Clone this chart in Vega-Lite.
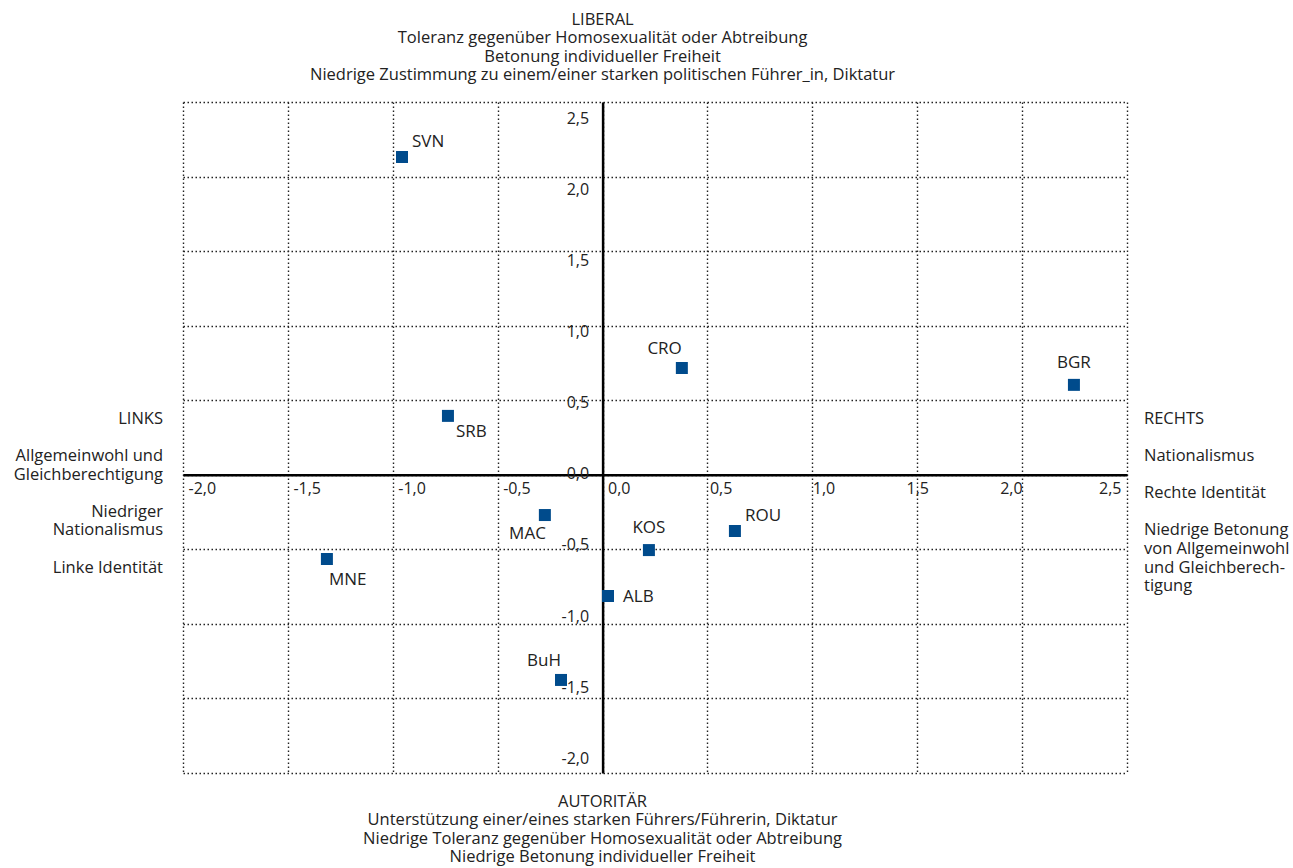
{
  "$schema": "https://vega.github.io/schema/vega-lite/v6.json",
  "width": 944,
  "height": 671,
  "autosize": {"type": "none"},
  "padding": {"left": 183, "top": 102, "right": 166, "bottom": 95},
  "background": "white",
  "config": {
    "view": {"stroke": null},
    "font": "Open Sans",
    "text": {"font": "Open Sans", "color": "#222", "fontSize": 16.5}
  },
  "datasets": {
    "countries": [
      {"code": "SVN", "x": -0.956, "y": 2.131},
      {"code": "CRO", "x": 0.378, "y": 0.716},
      {"code": "BGR", "x": 2.247, "y": 0.603},
      {"code": "SRB", "x": -0.737, "y": 0.395},
      {"code": "MAC", "x": -0.275, "y": -0.27},
      {"code": "KOS", "x": 0.221, "y": -0.505},
      {"code": "ROU", "x": 0.631, "y": -0.377},
      {"code": "MNE", "x": -1.314, "y": -0.565},
      {"code": "ALB", "x": 0.026, "y": -0.813},
      {"code": "BuH", "x": -0.198, "y": -1.376}
    ],
    "notes": [
      {"block": "top", "lines": ["LIBERAL", "Toleranz gegenüber Homosexualität oder Abtreibung", "Betonung individueller Freiheit", "Niedrige Zustimmung zu einem/einer starken politischen Führer_in, Diktatur"]},
      {"block": "bottom", "lines": ["AUTORITÄR", "Unterstützung einer/eines starken Führers/Führerin, Diktatur", "Niedrige Toleranz gegenüber Homosexualität oder Abtreibung", "Niedrige Betonung individueller Freiheit"]},
      {"block": "left", "lines": ["LINKS", "\u200b", "Allgemeinwohl und", "Gleichberechtigung", "\u200b", "Niedriger", "Nationalismus", "\u200b", "Linke Identität"]},
      {"block": "right", "lines": ["RECHTS", "\u200b", "Nationalismus", "\u200b", "Rechte Identität", "\u200b", "Niedrige Betonung", "von Allgemeinwohl", "und Gleichberech-", "tigung"]}
    ]
  },
  "layer": [
    {
      "data": {"name": "countries"},
      "mark": {"type": "square", "size": 144, "color": "#004b8c", "opacity": 1},
      "encoding": {
        "x": {
          "field": "x", "type": "quantitative",
          "scale": {"domain": [-2, 2.5], "nice": false, "zero": false},
          "axis": {
            "title": null, "orient": "bottom", "offset": -298.2,
            "values": [-2, -1.5, -1, -0.5, 0, 0.5, 1, 1.5, 2, 2.5],
            "domain": true, "domainColor": "#000", "domainWidth": 2.5,
            "ticks": false, "tickSize": 0,
            "grid": true, "gridColor": "#222", "gridDash": [1.5, 2.5], "gridWidth": 1.4,
            "labelFont": "Open Sans", "labelFontSize": 16, "labelColor": "#222",
            "labelPadding": 6, "labelBaseline": "top", "labelFlush": false, "labelOverlap": false,
            "labelExpr": "replace(replace(format(datum.value, '.1f'), '.', ','), '\u2212', '-')",
            "labelAlign": {
              "condition": [
                {"test": "datum.value >= 2", "value": "right"},
                {"test": "datum.value >= 1.5", "value": "center"}
              ],
              "value": "left"
            },
            "labelOffset": {
              "condition": [
                {"test": "datum.value <= 0", "value": 5},
                {"test": "datum.value <= 0.5", "value": 2},
                {"test": "datum.value >= 2.5", "value": -6}
              ],
              "value": 0
            }
          }
        },
        "y": {
          "field": "y", "type": "quantitative",
          "scale": {"domain": [-2, 2.5], "nice": false, "zero": false},
          "axis": {
            "title": null, "orient": "left", "offset": -419.6,
            "values": [-2, -1.5, -1, -0.5, 0, 0.5, 1, 1.5, 2, 2.5],
            "domain": true, "domainColor": "#000", "domainWidth": 2.5,
            "ticks": false, "tickSize": 0,
            "grid": true, "gridColor": "#222", "gridDash": [1.5, 2.5], "gridWidth": 1.4,
            "labelFont": "Open Sans", "labelFontSize": 16, "labelColor": "#222",
            "labelPadding": 14, "labelAlign": "right", "labelBaseline": "middle", "labelFlush": false, "labelOverlap": false,
            "labelExpr": "replace(replace(format(datum.value, '.1f'), '.', ','), '\u2212', '-')",
            "labelOffset": {
              "condition": [
                {"test": "datum.value >= 2.5", "value": 16},
                {"test": "datum.value >= 2", "value": 12.6},
                {"test": "datum.value >= 1.5", "value": 9.2},
                {"test": "datum.value >= 1", "value": 5.8},
                {"test": "datum.value >= 0.5", "value": 2.4},
                {"test": "datum.value >= 0", "value": -1},
                {"test": "datum.value >= -0.5", "value": -4.4},
                {"test": "datum.value >= -1", "value": -7.8},
                {"test": "datum.value >= -1.5", "value": -11.2}
              ],
              "value": -14.6
            }
          }
        }
      }
    },
    {
      "data": {"name": "countries"},
      "transform": [{"filter": {"field": "code", "oneOf": ["SVN", "ROU"]}}],
      "mark": {"type": "text", "align": "left", "baseline": "middle", "dx": 10, "dy": -15, "fontSize": 17},
      "encoding": {"x": {"field": "x", "type": "quantitative"}, "y": {"field": "y", "type": "quantitative"}, "text": {"field": "code", "type": "nominal"}}
    },
    {
      "data": {"name": "countries"},
      "transform": [{"filter": {"field": "code", "oneOf": ["CRO", "BuH"]}}],
      "mark": {"type": "text", "align": "right", "baseline": "middle", "dx": 0, "dy": -19, "fontSize": 17},
      "encoding": {"x": {"field": "x", "type": "quantitative"}, "y": {"field": "y", "type": "quantitative"}, "text": {"field": "code", "type": "nominal"}}
    },
    {
      "data": {"name": "countries"},
      "transform": [{"filter": {"field": "code", "oneOf": ["BGR", "KOS"]}}],
      "mark": {"type": "text", "align": "center", "baseline": "middle", "dx": 0, "dy": -22, "fontSize": 17},
      "encoding": {"x": {"field": "x", "type": "quantitative"}, "y": {"field": "y", "type": "quantitative"}, "text": {"field": "code", "type": "nominal"}}
    },
    {
      "data": {"name": "countries"},
      "transform": [{"filter": {"field": "code", "oneOf": ["SRB"]}}],
      "mark": {"type": "text", "align": "left", "baseline": "middle", "dx": 8, "dy": 16, "fontSize": 17},
      "encoding": {"x": {"field": "x", "type": "quantitative"}, "y": {"field": "y", "type": "quantitative"}, "text": {"field": "code", "type": "nominal"}}
    },
    {
      "data": {"name": "countries"},
      "transform": [{"filter": {"field": "code", "oneOf": ["MNE"]}}],
      "mark": {"type": "text", "align": "left", "baseline": "middle", "dx": 2, "dy": 21, "fontSize": 17},
      "encoding": {"x": {"field": "x", "type": "quantitative"}, "y": {"field": "y", "type": "quantitative"}, "text": {"field": "code", "type": "nominal"}}
    },
    {
      "data": {"name": "countries"},
      "transform": [{"filter": {"field": "code", "oneOf": ["MAC"]}}],
      "mark": {"type": "text", "align": "right", "baseline": "middle", "dx": 1, "dy": 19, "fontSize": 17},
      "encoding": {"x": {"field": "x", "type": "quantitative"}, "y": {"field": "y", "type": "quantitative"}, "text": {"field": "code", "type": "nominal"}}
    },
    {
      "data": {"name": "countries"},
      "transform": [{"filter": {"field": "code", "oneOf": ["ALB"]}}],
      "mark": {"type": "text", "align": "left", "baseline": "middle", "dx": 15, "dy": 1, "fontSize": 17},
      "encoding": {"x": {"field": "x", "type": "quantitative"}, "y": {"field": "y", "type": "quantitative"}, "text": {"field": "code", "type": "nominal"}}
    },
    {
      "data": {"name": "notes"},
      "transform": [{"filter": "datum.block === 'top'"}],
      "mark": {"type": "text", "align": "center", "baseline": "top", "dy": -90.5, "lineHeight": 18.5},
      "encoding": {"x": {"datum": 0, "type": "quantitative"}, "y": {"datum": 2.5, "type": "quantitative"}, "text": {"field": "lines", "type": "nominal"}}
    },
    {
      "data": {"name": "notes"},
      "transform": [{"filter": "datum.block === 'bottom'"}],
      "mark": {"type": "text", "align": "center", "baseline": "top", "dy": 21, "lineHeight": 18.4},
      "encoding": {"x": {"datum": 0, "type": "quantitative"}, "y": {"datum": -2, "type": "quantitative"}, "text": {"field": "lines", "type": "nominal"}}
    },
    {
      "data": {"name": "notes"},
      "transform": [{"filter": "datum.block === 'left'"}],
      "mark": {"type": "text", "align": "right", "baseline": "top", "dx": -20, "dy": -64, "lineHeight": 18.6},
      "encoding": {"x": {"datum": -2, "type": "quantitative"}, "y": {"datum": 0, "type": "quantitative"}, "text": {"field": "lines", "type": "nominal"}}
    },
    {
      "data": {"name": "notes"},
      "transform": [{"filter": "datum.block === 'right'"}],
      "mark": {"type": "text", "align": "left", "baseline": "top", "dx": 17, "dy": -64, "lineHeight": 18.6},
      "encoding": {"x": {"datum": 2.5, "type": "quantitative"}, "y": {"datum": 0, "type": "quantitative"}, "text": {"field": "lines", "type": "nominal"}}
    }
  ]
}
